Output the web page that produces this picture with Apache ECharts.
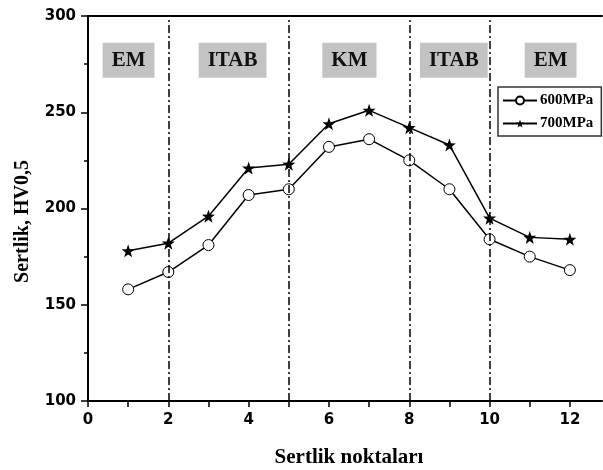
<!DOCTYPE html>
<html><head><meta charset="utf-8">
<script src="https://cdn.jsdelivr.net/npm/echarts@6/dist/echarts.min.js"></script>
<style>html,body{margin:0;padding:0;background:#fff}#c{width:603px;height:470px}</style>
</head><body><div id="c"></div>
<script>
const points = [1,2,3,4,5,6,7,8,9,10,11,12];
const s600 = [158,167,181,207,210,232,236,225,210,184,175,168];
const s700 = [178,182,196,221,223,244,251,242,233,195,185,184];
const seriesNames = ['600MPa','700MPa'];
const boundaries = [2,5,8,10];
const zoneNames = ['EM','ITAB','KM','ITAB','EM'];
const zoneX = [1.01,3.6,6.51,9.11,11.52];
const zoneY = 277;
const xLabels = [0,2,4,6,8,10,12];
const xTicks = [0,1,2,3,4,5,6,7,8,9,10,11,12];

const star = 'path://M0,-10 L2.35,-3.24 L9.51,-3.09 L3.8,1.24 L5.88,8.09 L0,4 L-5.88,8.09 L-3.8,1.24 L-9.51,-3.09 L-2.35,-3.24 Z';
const serif = '"Liberation Serif", "Times New Roman", serif';
const sans = '"DejaVu Sans", Verdana, sans-serif';

const chart = echarts.init(document.getElementById('c'), null, {renderer:'canvas'});
chart.setOption({
  animation:false,
  backgroundColor:'#fff',
  grid:{left:88, top:16, right:1, bottom:69, outerBoundsMode:'none', containLabel:false},
  legend:{
    orient:'vertical', left:498, top:87, padding:[6,8,5,4],
    borderColor:'#333', borderWidth:1.5, borderRadius:0,
    itemWidth:34, itemHeight:10, itemGap:8,
    textStyle:{fontFamily:serif, fontWeight:'bold', fontSize:15, color:'#000', padding:[0,0,0,-2]},
    data:seriesNames
  },
  xAxis:[{
    type:'value', min:0, max:12.8,
    name:'Sertlik noktaları', nameLocation:'middle', nameGap:46,
    nameTextStyle:{fontFamily:serif, fontWeight:'bold', fontSize:21, color:'#000', padding:[0,0,0,8]},
    axisLine:{show:true, onZero:false, lineStyle:{color:'#000', width:2}},
    axisTick:{show:true, length:6, lineStyle:{color:'#000', width:1.5}, customValues:xTicks},
    axisLabel:{fontFamily:sans, fontWeight:'bold', fontSize:15, color:'#000', margin:12, customValues:xLabels},
    splitLine:{show:false}
  },{
    type:'value', position:'top', min:0, max:12.8,
    axisLine:{show:true, onZero:false, lineStyle:{color:'#000', width:2}},
    axisTick:{show:false}, axisLabel:{show:false}, splitLine:{show:false}
  }],
  yAxis:{
    type:'value', min:100, max:300, interval:50,
    name:'Sertlik, HV0,5', nameLocation:'middle', nameGap:55, nameRotate:90,
    nameTextStyle:{fontFamily:serif, fontWeight:'bold', fontSize:20, color:'#000', padding:[0,26,0,0]},
    axisLine:{show:true, lineStyle:{color:'#000', width:2}},
    axisTick:{show:true, length:7, lineStyle:{color:'#000', width:1.5}},
    minorTick:{show:true, splitNumber:2, length:4, lineStyle:{color:'#000', width:1.5}},
    axisLabel:{fontFamily:sans, fontWeight:'bold', fontSize:15, color:'#000', margin:12},
    splitLine:{show:false}
  },
  series:[{
    name:seriesNames[0], type:'line',
    data:points.map((x,i)=>[x,s600[i]]),
    symbol:'circle', symbolSize:11,
    itemStyle:{color:'#fff', borderColor:'#000', borderWidth:1},
    lineStyle:{color:'#000', width:1.5},
    z:3,
    markLine:{
      silent:true, symbol:['none','none'], label:{show:false},
      lineStyle:{color:'#000', width:1.5, type:[8,3,2,3]},
      data:boundaries.map(b=>({xAxis:b}))
    },
    markPoint:{
      silent:true, symbol:'rect', symbolSize:0,
      label:{show:true, position:'inside', fontFamily:serif, fontWeight:'bold', fontSize:21, color:'#111',
        backgroundColor:'#c3c3c3', padding:[8,9,6,9], formatter:p=>p.name},
      data:zoneNames.map((n,i)=>({name:n, coord:[zoneX[i], zoneY]}))
    }
  },{
    name:seriesNames[1], type:'line',
    data:points.map((x,i)=>[x,s700[i]]),
    symbol:star, symbolSize:13,
    itemStyle:{color:'#000'},
    lineStyle:{color:'#000', width:1.5},
    z:3
  }]
});
</script></body></html>
